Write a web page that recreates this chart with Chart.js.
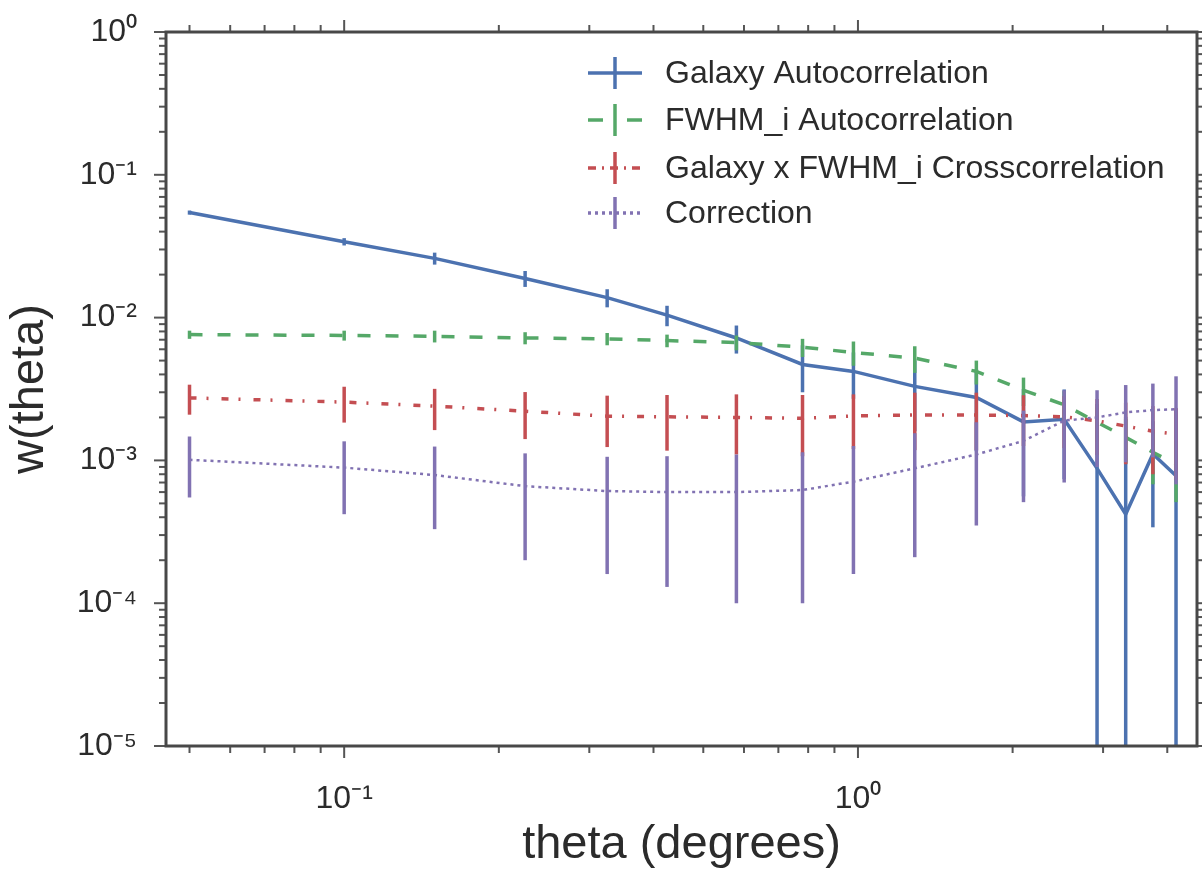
<!DOCTYPE html>
<html>
<head>
<meta charset="utf-8">
<title>w(theta)</title>
<script src="https://cdn.jsdelivr.net/npm/chart.js@4.4.1/dist/chart.umd.min.js"></script>
<style>
  html, body { margin: 0; padding: 0; background: #fff; }
  #wrap { width: 1202px; height: 871px; position: relative; }
</style>
</head>
<body>
<div id="wrap"><canvas id="chart"></canvas></div>
<script>
// angular bins (degrees)
let theta = [0.05, 0.1, 0.15, 0.225, 0.325, 0.425, 0.58, 0.78, 0.98, 1.29, 1.70, 2.10, 2.52, 2.92, 3.32, 3.75, 4.16];

let galaxyAuto    = [0.0544, 0.034, 0.026, 0.0188, 0.0138, 0.0104, 0.0072, 0.0047, 0.0042, 0.0033, 0.00276, 0.00186, 0.00194, 0.00088, 0.00042, 0.00111, 0.00078];
let galaxyAutoErr = [0.0018, 0.002, 0.0025, 0.0024, 0.002, 0.0017, 0.0016, 0.0017, 0.0015, 0.0017, 0.0016, 0.0013, 0.0012, 0.0016, 0.0016, 0.00077, 0.0015];

let fwhmAuto    = [0.0076, 0.0075, 0.0074, 0.0072, 0.0071, 0.0069, 0.0067, 0.0062, 0.0057, 0.0052, 0.0042, 0.0031, 0.00245, 0.00185, 0.00145, 0.00114, 0.00094];
let fwhmAutoErr = [0.0005, 0.0006, 0.0007, 0.0007, 0.0007, 0.0007, 0.0008, 0.0009, 0.0011, 0.0011, 0.0008, 0.0007, 0.0006, 0.0005, 0.0005, 0.00046, 0.00043];

let crossCorr    = [0.00274, 0.00256, 0.0024, 0.00221, 0.00204, 0.00202, 0.002, 0.00197, 0.00205, 0.00208, 0.00208, 0.00206, 0.00202, 0.00189, 0.00174, 0.0016, 0.00153];
let crossCorrErr = [0.00065, 0.00072, 0.00077, 0.0008, 0.0008, 0.00085, 0.0009, 0.0009, 0.00085, 0.0009, 0.0009, 0.0008, 0.0008, 0.0008, 0.0008, 0.0008, 0.0008];

let correction    = [0.00101, 0.00089, 0.00079, 0.00066, 0.00061, 0.0006, 0.0006, 0.00062, 0.00071, 0.00088, 0.0011, 0.00137, 0.0019, 0.002, 0.00217, 0.00225, 0.00228];
let correctionErr = [0.00046, 0.00047, 0.00046, 0.00046, 0.00045, 0.00047, 0.0005, 0.00052, 0.00055, 0.00067, 0.00075, 0.00086, 0.0012, 0.0011, 0.0012, 0.0012, 0.0016];

let seriesNames = ['Galaxy Autocorrelation', 'FWHM_i Autocorrelation', 'Galaxy x FWHM_i Crosscorrelation', 'Correction'];
let seriesColors = ['#4C72B0', '#55A868', '#C44E52', '#8172B2'];

// tick labels
let xMajor = [0.1, 1];
let xMajorLabels = ['10\u207B\u00B9', '10\u2070'];
let yMajor = [1e-5, 1e-4, 1e-3, 1e-2, 1e-1, 1];
let yMajorLabels = ['10\u207B\u2075', '10\u207B\u2074', '10\u207B\u00B3', '10\u207B\u00B2', '10\u207B\u00B9', '10\u2070'];

let fontFamily = '"Liberation Sans", Arial, Helvetica, sans-serif';
let textColor = '#2b2b2b';

function toPoints(ys) {
    return theta.map((t, i) => ({x: t, y: ys[i]}));
}

function labelFor(value, majors, labels) {
    for (let i = 0; i < majors.length; i++) {
        if (Math.abs(value - majors[i]) / majors[i] < 1e-6) return labels[i];
    }
    return '';
}

function minorValues(lo, hi) {
    let out = [];
    for (let e = -6; e <= 1; e++) {
        for (let k = 2; k <= 9; k++) {
            let v = k * Math.pow(10, e);
            if (v > lo && v < hi) out.push(v);
        }
    }
    return out;
}

let errorLists = [galaxyAutoErr, fwhmAutoErr, crossCorrErr, correctionErr];

// vertical error bars, drawn right after their own line
const errorBars = {
    id: 'errorBars',
    afterDatasetDraw(chart, args) {
        let ds = chart.data.datasets[args.index];
        let errs = errorLists[args.index];
        let {ctx, chartArea, scales} = chart;
        ctx.save();
        ctx.beginPath();
        ctx.rect(chartArea.left, chartArea.top, chartArea.right - chartArea.left, chartArea.bottom - chartArea.top);
        ctx.clip();
        ctx.strokeStyle = ds.borderColor;
        ctx.lineWidth = 3.5;
        ctx.setLineDash([]);
        ds.data.forEach((p, i) => {
            let px = scales.x.getPixelForValue(p.x);
            let top = scales.y.getPixelForValue(p.y + errs[i]);
            let low = p.y - errs[i];
            let bottom = low > 0 ? scales.y.getPixelForValue(low) : chartArea.bottom + 5;
            ctx.beginPath();
            ctx.moveTo(px, top);
            ctx.lineTo(px, bottom);
            ctx.stroke();
        });
        ctx.restore();
    }
};

// frame, outward tick marks and the in-axes legend
const frameAndLegend = {
    id: 'frameAndLegend',
    afterDraw(chart) {
        let {ctx, chartArea: a, scales} = chart;
        ctx.save();
        ctx.strokeStyle = '#555';
        ctx.lineWidth = 2;
        ctx.setLineDash([]);

        let xMinor = minorValues(scales.x.min, scales.x.max);
        let yMinor = minorValues(scales.y.min, scales.y.max);
        let tick = (x1, y1, x2, y2) => { ctx.beginPath(); ctx.moveTo(x1, y1); ctx.lineTo(x2, y2); ctx.stroke(); };

        xMinor.forEach(v => {
            let px = scales.x.getPixelForValue(v);
            tick(px, a.bottom, px, a.bottom + 7);
            tick(px, a.top, px, a.top - 7);
        });
        xMajor.forEach(v => {
            let px = scales.x.getPixelForValue(v);
            tick(px, a.bottom, px, a.bottom + 12);
            tick(px, a.top, px, a.top - 12);
        });
        yMinor.forEach(v => {
            let py = scales.y.getPixelForValue(v);
            tick(a.left, py, a.left - 7, py);
            tick(a.right, py, a.right + 7, py);
        });
        yMajor.forEach(v => {
            let py = scales.y.getPixelForValue(v);
            tick(a.left, py, a.left - 12, py);
            tick(a.right, py, a.right + 12, py);
        });

        ctx.strokeStyle = '#484848';
        ctx.lineWidth = 3;
        ctx.strokeRect(a.left, a.top, a.right - a.left, a.bottom - a.top);

        // legend
        let legendDash = [[], [15, 24], [8, 6, 2, 6], [3, 4]];
        let rowY = [73, 120, 168, 213];
        ctx.font = '32px ' + fontFamily;
        ctx.textBaseline = 'middle';
        ctx.textAlign = 'left';
        for (let i = 0; i < seriesNames.length; i++) {
            ctx.strokeStyle = seriesColors[i];
            ctx.lineWidth = 3.5;
            ctx.setLineDash(legendDash[i]);
            tick(588, rowY[i], 642, rowY[i]);
            ctx.setLineDash([]);
            tick(615, rowY[i] - 16, 615, rowY[i] + 16);
            ctx.fillStyle = textColor;
            ctx.fillText(seriesNames[i], 665, rowY[i] + 1);
        }
        ctx.restore();
    }
};

let dashes = [[], [13, 15], [7, 10, 2, 13], [3, 4]];
let values = [galaxyAuto, fwhmAuto, crossCorr, correction];

let datasets = values.map((v, i) => ({
    label: seriesNames[i],
    data: toPoints(v),
    borderColor: seriesColors[i],
    backgroundColor: seriesColors[i],
    borderWidth: i == 3 ? 2.5 : 3.5,
    borderDash: dashes[i],
    pointRadius: 0,
    tension: 0,
    fill: false,
    order: 4 - i
}));

new Chart(document.getElementById('chart'), {
    type: 'line',
    data: {datasets: datasets},
    plugins: [errorBars, frameAndLegend],
    options: {
        responsive: true,
        maintainAspectRatio: false,
        animation: false,
        layout: {autoPadding: false, padding: {top: 32, right: 5, left: 0, bottom: 0}},
        plugins: {
            legend: {display: false},
            tooltip: {enabled: false}
        },
        scales: {
            x: {
                type: 'logarithmic',
                position: 'bottom',
                min: 0.045,
                max: 4.57,
                grid: {display: false},
                border: {display: false},
                ticks: {
                    autoSkip: false,
                    maxRotation: 0,
                    padding: 26,
                    color: textColor,
                    font: {family: fontFamily, size: 32},
                    callback: (value) => labelFor(value, xMajor, xMajorLabels)
                },
                title: {
                    display: true,
                    text: 'theta (degrees)',
                    color: textColor,
                    font: {family: fontFamily, size: 47, lineHeight: 1},
                    padding: {top: 0, bottom: 2}
                },
                afterFit: (scale) => {
                    scale.height = 125;
                    scale.paddingLeft = 0;
                    scale.paddingRight = 0;
                }
            },
            y: {
                type: 'logarithmic',
                min: 1e-5,
                max: 1,
                grid: {display: false},
                border: {display: false},
                ticks: {
                    autoSkip: false,
                    padding: 21,
                    color: textColor,
                    font: {family: fontFamily, size: 32},
                    callback: (value) => labelFor(value, yMajor, yMajorLabels)
                },
                title: {
                    display: true,
                    text: 'w(theta)',
                    color: textColor,
                    font: {family: fontFamily, size: 47, lineHeight: 1},
                    padding: {top: 7, bottom: 0}
                },
                afterFit: (scale) => {
                    scale.width = 166;
                    scale.paddingTop = 0;
                    scale.paddingBottom = 0;
                }
            }
        }
    }
});
</script>
</body>
</html>
